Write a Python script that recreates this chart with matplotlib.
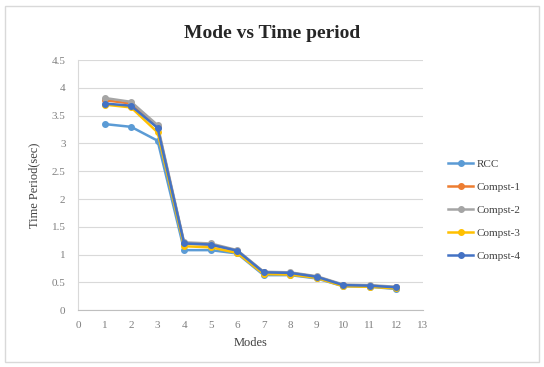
import matplotlib
matplotlib.use('Agg')
import matplotlib.pyplot as plt
from matplotlib.patches import Rectangle

# Data
modes = [1, 2, 3, 4, 5, 6, 7, 8, 9, 10, 11, 12]
rcc = [3.35, 3.30, 3.05, 1.08, 1.08, 1.02, 0.63, 0.63, 0.57, 0.43, 0.42, 0.38]
compst1 = [3.78, 3.72, 3.30, 1.20, 1.18, 1.07, 0.68, 0.67, 0.60, 0.45, 0.44, 0.41]
compst2 = [3.82, 3.75, 3.33, 1.22, 1.20, 1.08, 0.69, 0.68, 0.61, 0.46, 0.45, 0.42]
compst3 = [3.70, 3.65, 3.20, 1.15, 1.13, 1.03, 0.65, 0.64, 0.58, 0.43, 0.42, 0.39]
compst4 = [3.72, 3.68, 3.28, 1.20, 1.18, 1.07, 0.68, 0.67, 0.60, 0.45, 0.44, 0.41]

series = [
    ("RCC", rcc, "#5B9BD5"),
    ("Compst-1", compst1, "#ED7D31"),
    ("Compst-2", compst2, "#A5A5A5"),
    ("Compst-3", compst3, "#FFC000"),
    ("Compst-4", compst4, "#4472C4"),
]

plt.rcParams['font.family'] = ['Liberation Serif', 'DejaVu Serif']

fig = plt.figure(figsize=(5.44, 3.67), dpi=100)
# outer chart border
fig.patches.append(Rectangle((0.01, 0.013), 0.98, 0.97, transform=fig.transFigure,
                             fill=False, edgecolor='#D9D9D9', linewidth=1.0))

ax = fig.add_axes([0.1434, 0.155, 0.634, 0.681])
for name, vals, color in series:
    ax.plot(modes, vals, color=color, marker='o', markersize=4, linewidth=1.8,
            label=name)

ax.set_xlim(0, 13)
ax.set_ylim(0, 4.5)
ax.set_xticks(range(0, 14))
ax.set_yticks([0, 0.5, 1, 1.5, 2, 2.5, 3, 3.5, 4, 4.5])
ax.set_yticklabels(['0', '0.5', '1', '1.5', '2', '2.5', '3', '3.5', '4', '4.5'])
ax.tick_params(axis='both', labelsize=8, colors='#7F7F7F', length=0)
ax.tick_params(axis='y', pad=9)
ax.tick_params(axis='x', pad=8)
ax.grid(axis='y', color='#D9D9D9', linewidth=0.8)
ax.set_axisbelow(True)
for s in ['top', 'right']:
    ax.spines[s].set_visible(False)
ax.spines['bottom'].set_color('#BFBFBF')
ax.spines['left'].set_color('#D9D9D9')

ax.set_xlabel('Modes', fontsize=9, color='#404040', labelpad=5)
ax.set_ylabel('Time Period(sec)', fontsize=9, color='#404040', labelpad=8)
fig.text(0.5, 0.91, 'Mode vs Time period', ha='center', va='center',
         fontsize=14, fontweight='bold', color='#262626')

ax.legend(loc='center left', bbox_to_anchor=(1.045, 0.40), frameon=False,
          fontsize=8, handlelength=2.2, labelspacing=1.2, handletextpad=0.3,
          labelcolor='#404040')

plt.savefig('out.png', dpi=100)
